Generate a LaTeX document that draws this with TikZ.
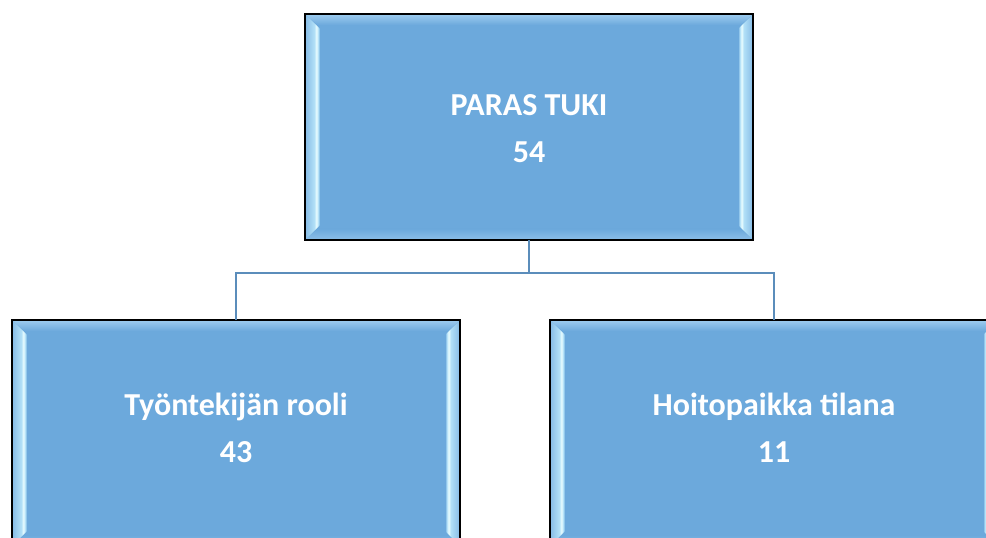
\documentclass[tikz,border=0pt]{standalone}
\usepackage{fontspec}
\setmainfont{Carlito}
\usetikzlibrary{fit}
\definecolor{boxfill}{HTML}{6CA9DC}
\definecolor{bevA}{HTML}{86BBE6}
\definecolor{bevB}{HTML}{B2E0F7}
\definecolor{bevW}{HTML}{EAFDFF}
\definecolor{bandTop}{HTML}{9ECCEF}
\definecolor{bandBot}{HTML}{8DBFE8}
\definecolor{linkblue}{HTML}{5B8DBB}
\pgfdeclarehorizontalshading{bevL}{100bp}{color(0bp)=(bevA); color(25bp)=(bevA); color(56bp)=(bevB); color(63bp)=(bevW); color(69bp)=(bevB); color(75bp)=(boxfill); color(100bp)=(boxfill)}
\pgfdeclarehorizontalshading{bevR}{100bp}{color(0bp)=(boxfill); color(25bp)=(boxfill); color(31bp)=(bevB); color(37bp)=(bevW); color(44bp)=(bevB); color(75bp)=(bevA); color(100bp)=(bevA)}
\tikzset{
  boxborder/.style={draw=black, line width=1.3pt},
  boxlabel/.style={text=white, font=\bfseries\fontsize{24}{35.25}\selectfont, align=center, inner sep=0pt},
  link/.style={draw=linkblue, line width=2.1pt},
  hull/.style={inner sep=0pt, outer sep=0pt}
}
% #1 name, #2 x1, #3 y1, #4 x2, #5 y2
\newcommand\bevelbox[5]{%
  \fill[boxfill] (#2,#3) rectangle (#4,#5);
  \shade[top color=bandTop, bottom color=boxfill] (#2,#3) -- (#4,#3) -- (#4-12,#3+11) -- (#2+12,#3+11) -- cycle;
  \shade[top color=boxfill, bottom color=bandBot] (#2,#5) -- (#4,#5) -- (#4-12,#5-11) -- (#2+12,#5-11) -- cycle;
  \shade[shading=bevL] (#2,#3) -- (#2+15,#3+15) -- (#2+15,#5-15) -- (#2,#5) -- cycle;
  \shade[shading=bevR] (#4,#3) -- (#4-15,#3+15) -- (#4-15,#5-15) -- (#4,#5) -- cycle;
  \draw[boxborder] (#2,#3) rectangle (#4,#5);
  \coordinate (#1-nw) at (#2,#3);
  \coordinate (#1-se) at (#4,#5);
  \node[hull, fit=(#1-nw)(#1-se)] (#1) {};
}
\begin{document}
\begin{tikzpicture}[x=0.75pt, y=-0.75pt]
\clip (0,0) rectangle (986,538);
\fill[white] (0,0) rectangle (986,538);
\bevelbox{top}{305}{14}{753}{240}
\bevelbox{left}{12}{320}{460}{546}
\bevelbox{right}{550}{320}{998}{546}
\node[boxlabel] (toplabel) at (529,129) {PARAS TUKI\\54};
\node[boxlabel] (leftlabel) at (236,428) {Työntekijän rooli\\43};
\node[boxlabel] (rightlabel) at (774,428) {Hoitopaikka tilana\\11};
\coordinate (bus) at (529,273);
\draw[link] (top.south) -- (bus);
\draw[link] (left.north) |- (bus) -| (right.north);
\end{tikzpicture}
\end{document}
